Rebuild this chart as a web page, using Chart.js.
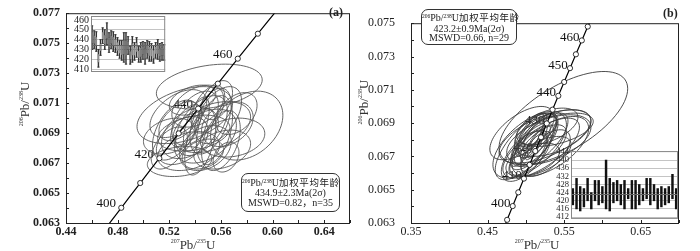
<!DOCTYPE html>
<html>
<head>
<meta charset="utf-8">
<script src="https://cdn.jsdelivr.net/npm/chart.js@4.4.1/dist/chart.umd.min.js"></script>
<style>
  body { margin: 0; background: #fff; }
  #wrap { position: relative; width: 700px; height: 251px; overflow: hidden; font-family: "Liberation Serif", serif; color: #222; }
  canvas { position: absolute; display: block; }
  .note { position: absolute; border: 1px solid #333; border-radius: 7px; text-align: center; font-size: 10px; line-height: 10px; background: #fff;
          font-family: "Liberation Serif", "Noto Sans CJK SC", serif; box-sizing: border-box; padding-top: 4px; white-space: nowrap; }
  .cjk { font-size: 9.5px; letter-spacing: 0.6px; }
  .sp { font-size: 5.5px; vertical-align: top; line-height: 6px; }
  .title { position: absolute; font-size: 13px; line-height: 16px; text-align: center; color: #333; white-space: nowrap; }
  .title sup { font-size: 6px; vertical-align: top; line-height: 8px; }
  .tag { position: absolute; font-weight: bold; font-size: 12px; }
</style>
</head>
<body>
<div id="wrap">
  <canvas id="chartA" width="352" height="251" style="left:0;top:0"></canvas>
  <canvas id="chartB" width="350" height="251" style="left:350px;top:0"></canvas>
  <canvas id="insetA" width="100" height="72" style="left:70px;top:8px"></canvas>
  <canvas id="insetB" width="128" height="82" style="left:553px;top:144px"></canvas>

  <div class="title" style="left:143px;top:237px;width:100px"><sup>207</sup>Pb/<sup>235</sup>U</div>
  <div class="title" style="left:487px;top:237px;width:100px"><sup>207</sup>Pb/<sup>235</sup>U</div>
  <div class="title" style="left:-25px;top:96px;width:100px;transform:rotate(-90deg)"><sup>206</sup>Pb/<sup>238</sup>U</div>
  <div class="title" style="left:314px;top:94px;width:100px;transform:rotate(-90deg)"><sup>206</sup>Pb/<sup>238</sup>U</div>

  <div class="tag" style="left:329px;top:5px">(a)</div>
  <div class="tag" style="left:663px;top:6px">(b)</div>

  <div class="note" style="left:241px;top:173px;width:99px;height:39px">
    <span class="sp">206</span>Pb/<span class="sp">238</span>U<span class="cjk">加权平均年龄</span><br>434.9±2.3Ma(2σ)<br>MSWD=0.82，n=35
  </div>
  <div class="note" style="left:421px;top:9px;width:96px;height:36px;line-height:9.5px;padding-top:3px">
    <span class="sp">206</span>Pb/<span class="sp">238</span>U<span class="cjk">加权平均年龄</span><br>423.2±0.9Ma(2σ)<br>MSWD=0.66, n=29
  </div>
</div>

<script>
// 谐和曲线 (年龄 Ma, 207Pb/235U, 206Pb/238U)
const concAges = [390, 395, 400, 405, 410, 415, 420, 425, 430, 435, 440, 445, 450, 455, 460, 465, 470, 475, 480];
const concX = [0.46828, 0.47553, 0.48281, 0.49013, 0.49749, 0.50488, 0.51231, 0.51977, 0.52728, 0.53481,
               0.54239, 0.55001, 0.55766, 0.56535, 0.57307, 0.58084, 0.58864, 0.59648, 0.60436];
const concY = [0.062366, 0.063191, 0.064016, 0.064841, 0.065667, 0.066494, 0.067322, 0.068150, 0.068979, 0.069808,
               0.070638, 0.071469, 0.072300, 0.073132, 0.073965, 0.074798, 0.075632, 0.076467, 0.077302];
const markAgesA = [400, 410, 420, 430, 440, 450, 460, 470];
const labelAgesA = [400, 420, 440, 460];
const markAgesB = [395, 400, 405, 410, 415, 420, 425, 430, 435, 440, 445, 450, 455, 460, 465];
const labelAgesB = [400, 410, 420, 430, 440, 450, 460];

// 测点误差椭圆 [207Pb/235U, 206Pb/238U, x误差, y误差, rho]
const spotsA = [
  [0.551, 0.0721, 0.041, 0.0015, 0.30], [0.532, 0.0702, 0.037, 0.0019, 0.40], [0.580, 0.0695, 0.028, 0.0023, 0.30],
  [0.569, 0.0687, 0.025, 0.0013, 0.20], [0.528, 0.0671, 0.025, 0.0010, 0.20], [0.564, 0.0674, 0.010, 0.0010, 0.30],
  [0.540, 0.0700, 0.018, 0.0018, 0.50], [0.545, 0.0695, 0.020, 0.0020, 0.50], [0.536, 0.0690, 0.022, 0.0017, 0.40],
  [0.552, 0.0698, 0.016, 0.0022, 0.50], [0.530, 0.0685, 0.020, 0.0016, 0.40], [0.548, 0.0688, 0.024, 0.0018, 0.40],
  [0.558, 0.0702, 0.018, 0.0019, 0.50], [0.525, 0.0692, 0.018, 0.0020, 0.50], [0.542, 0.0708, 0.020, 0.0014, 0.40],
  [0.555, 0.0692, 0.014, 0.0023, 0.40], [0.535, 0.0678, 0.024, 0.0013, 0.30], [0.520, 0.0680, 0.014, 0.0014, 0.50],
  [0.548, 0.0680, 0.020, 0.0015, 0.30], [0.565, 0.0696, 0.020, 0.0015, 0.30], [0.538, 0.0712, 0.018, 0.0010, 0.40],
  [0.528, 0.0698, 0.016, 0.0013, 0.50], [0.560, 0.0685, 0.015, 0.0020, 0.40], [0.544, 0.0684, 0.012, 0.0022, 0.50],
  [0.533, 0.0695, 0.012, 0.0014, 0.60], [0.550, 0.0706, 0.013, 0.0016, 0.50], [0.520, 0.0688, 0.020, 0.0012, 0.30],
  [0.572, 0.0703, 0.016, 0.0014, 0.40], [0.546, 0.0676, 0.016, 0.0010, 0.30], [0.557, 0.0712, 0.012, 0.0013, 0.40],
  [0.539, 0.0690, 0.028, 0.0012, 0.30], [0.553, 0.0694, 0.030, 0.0017, 0.40], [0.527, 0.0703, 0.022, 0.0016, 0.50],
  [0.561, 0.0679, 0.022, 0.0013, 0.30], [0.541, 0.0696, 0.010, 0.0018, 0.60]
];
const spotsB = [
  [0.549, 0.0693, 0.084, 0.0028, 0.63], [0.505, 0.0677, 0.048, 0.0020, 0.60], [0.525, 0.0682, 0.060, 0.0016, 0.60],
  [0.530, 0.0680, 0.055, 0.0015, 0.50], [0.520, 0.0675, 0.050, 0.0018, 0.70], [0.512, 0.0679, 0.030, 0.0015, 0.70],
  [0.515, 0.0682, 0.025, 0.0013, 0.70], [0.508, 0.0676, 0.028, 0.0014, 0.70], [0.518, 0.0684, 0.022, 0.0012, 0.75],
  [0.510, 0.0680, 0.018, 0.0011, 0.75], [0.503, 0.0672, 0.025, 0.0014, 0.70], [0.520, 0.0680, 0.035, 0.0016, 0.70],
  [0.535, 0.0684, 0.050, 0.0014, 0.50], [0.498, 0.0670, 0.030, 0.0015, 0.60], [0.514, 0.0686, 0.028, 0.0010, 0.60],
  [0.507, 0.0683, 0.020, 0.0013, 0.80], [0.523, 0.0677, 0.030, 0.0012, 0.60], [0.500, 0.0676, 0.040, 0.0020, 0.70],
  [0.513, 0.0673, 0.020, 0.0012, 0.70], [0.528, 0.0688, 0.040, 0.0011, 0.50], [0.509, 0.0668, 0.035, 0.0010, 0.50],
  [0.517, 0.0679, 0.015, 0.0010, 0.80], [0.540, 0.0686, 0.048, 0.0010, 0.50], [0.502, 0.0680, 0.022, 0.0016, 0.80],
  [0.526, 0.0672, 0.032, 0.0014, 0.60], [0.511, 0.0677, 0.012, 0.0009, 0.80], [0.495, 0.0684, 0.042, 0.0016, 0.60],
  [0.519, 0.0670, 0.040, 0.0012, 0.60], [0.532, 0.0676, 0.050, 0.0018, 0.60]
];

// 加权平均年龄小图
const insetAgesA = [442, 440, 438, 421, 432, 444, 440, 446, 437, 440, 438, 436, 433, 430, 429, 432, 431, 434,
                    424, 430, 428, 432, 425, 427, 429, 426, 430, 428, 427, 425, 429, 430, 427, 428, 427];
const insetErrA = [12, 9, 10, 9, 8, 8, 10, 11, 10, 9, 10, 9, 9, 9, 10, 15, 16, 9, 9, 13, 9, 10, 8, 10, 9, 11,
                   9, 10, 9, 9, 8, 10, 9, 9, 8];
const insetTicksA = [410, 420, 430, 440, 450, 460];
const meanA = 434.9;
const insetLoB = [418, 416, 415, 417, 420, 416, 420, 418, 419, 416, 415, 419, 420, 418, 416, 421, 416, 416, 418,
                  420, 421, 418, 420, 416, 417, 418, 419, 421, 416];
const insetHiB = [426, 431, 427, 426, 431, 424, 430, 430, 427, 440, 431, 429, 430, 428, 430, 426, 430, 430, 428,
                  426, 431, 431, 428, 426, 427, 426, 427, 433, 426];
const insetTicksB = [412, 416, 420, 424, 428, 432, 436, 440, 444];
const meanB = 423.2;

Chart.defaults.font.family = '"Liberation Serif", serif';
Chart.defaults.color = '#222';
Chart.defaults.animation = false;

// 画框和向内的刻度
const frameTicks = {
  id: 'frameTicks',
  afterDraw(chart) {
    const { ctx, chartArea: a, scales } = chart;
    ctx.save();
    ctx.strokeStyle = '#222';
    ctx.lineWidth = 1;
    ctx.strokeRect(a.left + 0.5, a.top + 0.5, a.right - a.left - 1, a.bottom - a.top);
    ctx.beginPath();
    scales.x.ticks.forEach(t => {
      const px = Math.round(scales.x.getPixelForValue(t.value)) + 0.5;
      ctx.moveTo(px, a.bottom); ctx.lineTo(px, a.bottom - 3);
    });
    scales.y.ticks.forEach(t => {
      const py = Math.round(scales.y.getPixelForValue(t.value)) + 0.5;
      ctx.moveTo(a.left, py); ctx.lineTo(a.left + 3, py);
    });
    ctx.stroke();
    ctx.restore();
  }
};

// 误差椭圆和年龄标注
const ellipses = {
  id: 'ellipses',
  beforeDatasetsDraw(chart, args, opts) {
    const { ctx, chartArea: a, scales: { x, y } } = chart;
    ctx.save();
    ctx.beginPath();
    ctx.rect(a.left, a.top, a.right - a.left, a.bottom - a.top);
    ctx.clip();
    ctx.fillStyle = '#111';
    ctx.font = '13px "Liberation Serif", serif';
    ctx.textAlign = 'center';
    ctx.textBaseline = 'middle';
    opts.labels.forEach(age => {
      const i = concAges.indexOf(age);
      ctx.fillText(String(age), x.getPixelForValue(concX[i]) + opts.dx, y.getPixelForValue(concY[i]) + opts.dy);
    });
    ctx.strokeStyle = opts.color;
    ctx.lineWidth = 0.9;
    opts.spots.forEach(([cx, cy, sx, sy, r]) => {
      ctx.beginPath();
      for (let k = 0; k <= 80; k++) {
        const th = k / 80 * 2 * Math.PI;
        const vx = cx + sx * Math.cos(th);
        const vy = cy + sy * (r * Math.cos(th) + Math.sqrt(1 - r * r) * Math.sin(th));
        const px = x.getPixelForValue(vx), py = y.getPixelForValue(vy);
        if (k === 0) ctx.moveTo(px, py); else ctx.lineTo(px, py);
      }
      ctx.closePath();
      ctx.stroke();
    });
    ctx.restore();
  }
};

function concordiaDataset(marks) {
  return {
    type: 'scatter',
    data: concAges.map((t, i) => ({ x: concX[i], y: concY[i] })),
    showLine: true,
    borderColor: '#000',
    borderWidth: 1.2,
    pointRadius: concAges.map(t => marks.includes(t) ? 2.6 : 0),
    pointBackgroundColor: '#fff',
    pointBorderColor: '#000',
    pointBorderWidth: 0.8
  };
}

function mainChart(id, cfg) {
  return new Chart(document.getElementById(id), {
    type: 'scatter',
    data: { datasets: [concordiaDataset(cfg.marks)] },
    options: {
      responsive: false,
      layout: { padding: cfg.padding },
      plugins: {
        legend: { display: false },
        tooltip: { enabled: false },
        ellipses: { spots: cfg.spots, labels: cfg.labels, color: cfg.color, dx: cfg.dx, dy: cfg.dy }
      },
      scales: {
        x: {
          type: 'linear', min: cfg.xMin, max: cfg.xMax,
          grid: { display: false, drawTicks: false }, border: { display: false },
          afterFit: s => { s.height = 28; },
          ticks: {
            stepSize: cfg.xStep, autoSkip: false, maxRotation: 0, padding: 2, maxTicksLimit: 50,
            font: { size: 12, weight: cfg.bold ? 'bold' : 'normal' },
            callback: (v, i) => i % 2 === 0 ? v.toFixed(2) : ''
          }
        },
        y: {
          type: 'linear', min: cfg.yMin, max: cfg.yMax,
          grid: { display: false, drawTicks: false }, border: { display: false },
          afterFit: s => { s.width = cfg.yWidth; },
          ticks: {
            stepSize: 0.001, autoSkip: false, padding: cfg.yPad, maxTicksLimit: 50,
            font: { size: 12, weight: cfg.bold ? 'bold' : 'normal' },
            callback: (v, i) => i % 2 === 0 ? v.toFixed(3) : ''
          }
        }
      }
    },
    plugins: [ellipses, frameTicks]
  });
}

mainChart('chartA', {
  marks: markAgesA, spots: spotsA, labels: labelAgesA, color: '#555', dx: -15, dy: -4,
  xMin: 0.44, xMax: 0.66, xStep: 0.02, yMin: 0.063, yMax: 0.077,
  yWidth: 66, yPad: 6, bold: true, padding: { top: 3, right: 2, left: 0, bottom: 0 }
});
mainChart('chartB', {
  marks: markAgesB, spots: spotsB, labels: labelAgesB, color: '#3a3a3a', dx: -12, dy: -3,
  xMin: 0.35, xMax: 0.70, xStep: 0.05, yMin: 0.063, yMax: 0.075,
  yWidth: 61, yPad: 16, bold: false, padding: { top: 5, right: 21, left: 0, bottom: 0 }
});

// 小图的边框和平均线
const insetFrame = {
  id: 'insetFrame',
  afterDatasetsDraw(chart, args, opts) {
    const { ctx, chartArea: a, scales: { y } } = chart;
    ctx.save();
    ctx.strokeStyle = '#666';
    ctx.lineWidth = 1;
    const py = Math.round(y.getPixelForValue(opts.mean)) + 0.5;
    ctx.beginPath(); ctx.moveTo(a.left, py); ctx.lineTo(a.right, py); ctx.stroke();
    ctx.strokeStyle = '#888';
    ctx.strokeRect(a.left + 0.5, a.top + 0.5, a.right - a.left - 1, a.bottom - a.top - 1);
    ctx.restore();
  }
};

function insetScales(min, max, ticks, width, size) {
  return {
    x: { display: false, offset: true },
    y: {
      min: min, max: max,
      afterBuildTicks: s => { s.ticks = ticks.map(v => ({ value: v })); },
      afterFit: s => { s.width = width; },
      grid: { color: '#c4c4c4', drawTicks: false },
      border: { display: false },
      ticks: { font: { size: size }, padding: 2, autoSkip: false }
    }
  };
}

new Chart(document.getElementById('insetA'), {
  type: 'bar',
  data: {
    labels: insetAgesA.map((a, i) => i + 1),
    datasets: [
      { data: insetAgesA.map((a, i) => [a - insetErrA[i], a + insetErrA[i]]), backgroundColor: '#333',
        barThickness: 0.8, grouped: false, order: 3 },
      { data: insetAgesA.map((a, i) => [a - insetErrA[i] / 2, a + insetErrA[i] / 2]), backgroundColor: '#b4b4b4',
        borderColor: '#444', borderWidth: 0.5, borderSkipped: false, barPercentage: 0.8, categoryPercentage: 1,
        grouped: false, order: 2 },
      { type: 'line', data: insetAgesA.map((a, i) => a + insetErrA[i]), showLine: false, pointStyle: 'line',
        pointRadius: 1.2, borderColor: '#333', borderWidth: 0.8, order: 1 },
      { type: 'line', data: insetAgesA.map((a, i) => a - insetErrA[i]), showLine: false, pointStyle: 'line',
        pointRadius: 1.2, borderColor: '#333', borderWidth: 0.8, order: 1 }
    ]
  },
  options: {
    responsive: false,
    layout: { padding: { top: 5, right: 3, bottom: 5, left: 0 } },
    plugins: { legend: { display: false }, tooltip: { enabled: false }, insetFrame: { mean: meanA } },
    scales: insetScales(407, 464, insetTicksA, 21, 10)
  },
  plugins: [insetFrame]
});

new Chart(document.getElementById('insetB'), {
  type: 'bar',
  data: {
    labels: insetLoB.map((v, i) => i + 1),
    datasets: [
      { data: insetLoB.map((v, i) => [v, insetHiB[i]]), backgroundColor: '#111', barThickness: 1.8 }
    ]
  },
  options: {
    responsive: false,
    layout: { padding: { top: 4, right: 3, bottom: 3, left: 0 } },
    plugins: { legend: { display: false }, tooltip: { enabled: false }, insetFrame: { mean: meanB } },
    scales: insetScales(411.1, 444.4, insetTicksB, 18, 8.5)
  },
  plugins: [insetFrame]
});
</script>
</body>
</html>
